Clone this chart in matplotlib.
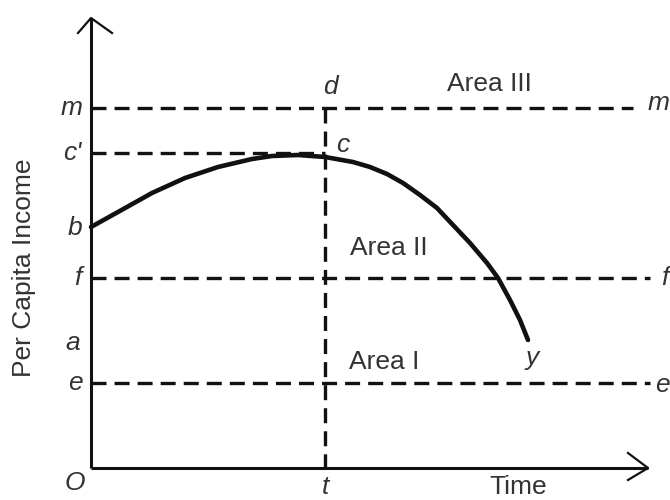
import matplotlib.pyplot as plt

plt.rcParams['font.family'] = ['Liberation Sans', 'DejaVu Sans']
plt.rcParams['lines.scale_dashes'] = False

# levels on the income axis (origin O at 0)
level_names = ['m', 'f', 'e']
level_values = [360, 190, 85]
level_ends = [542, 559, 559]
c_prime = 315
b_value = 240
a_value = 125
t_value = 234

# per capita income path b -> c -> y
curve_x = [0, 27, 61, 94, 127, 161, 181, 207, 234, 262, 279, 296, 312, 329, 346,
           362, 379, 396, 407, 419, 429, 437]
curve_y = [241, 256, 275, 290, 301, 309, 312, 313, 311, 306, 301, 294, 285, 273, 260,
           243, 225, 205, 190, 168, 148, 128]

ink = '#111111'
txt = '#333333'
dash = (10.8, 5.8)
fs = 19

fig = plt.figure(figsize=(6.7, 5), dpi=100)
ax = fig.add_axes([0, 0, 1, 1])
ax.set_xlim(-91, 579)
ax.set_ylim(-32, 468)
ax.axis('off')

# axes with open arrow heads
ax.plot([0, 0], [0, 450], color=ink, lw=2.2, solid_capstyle='butt')
ax.plot([0, 557], [0, 0], color=ink, lw=2.2, solid_capstyle='butt')
ax.plot([-13, 0, 21], [435, 450, 435], color=ink, lw=1.6)
ax.plot([537, 557, 537], [15, 0, -12], color=ink, lw=1.6)

# dashed guide lines
for val, end in zip(level_values, level_ends):
    ax.plot([0, end], [val, val], color=ink, lw=2.4, dashes=dash)
ax.plot([0, t_value], [c_prime, c_prime], color=ink, lw=2.4, dashes=dash)
ax.plot([t_value, t_value], [level_values[0], 0], color=ink, lw=2.4, dashes=dash)

# curve
ax.plot(curve_x, curve_y, color=ink, lw=3.3, solid_joinstyle='round', solid_capstyle='round')

it = dict(style='italic', fontsize=fs, color=txt, ha='center', va='center')
ax.text(-19, level_values[0], 'm', **it)
ax.text(-19, c_prime, "c'", **it)
ax.text(-16, b_value, 'b', **it)
ax.text(-13, level_values[1], 'f', **it)
ax.text(-18, a_value, 'a', **it)
ax.text(-16, level_values[2], 'e', **it)
ax.text(-16, -15, 'O', **it)
ax.text(t_value, -19, 't', **it)
ax.text(t_value + 5, 381, 'd', **it)
ax.text(t_value + 18, 323, 'c', **it)
ax.text(curve_x[-1] + 4, 110, 'y', **it)
ax.text(568, 365, 'm', **it)
ax.text(574, level_values[1], 'f', **it)
ax.text(571, level_values[2] - 2, 'e', **it)

ar = dict(fontsize=fs, color=txt, ha='left', va='center')
ax.text(356, 384, 'Area III', **ar)
ax.text(259, 220, 'Area II', **ar)
ax.text(258, 106, 'Area I', **ar)
ax.text(427, -19, 'Time', fontsize=fs, color=txt, ha='center', va='center')
ax.text(-67, 200, 'Per Capita Income', fontsize=fs, color=txt, rotation=90,
        ha='center', va='center')

fig.savefig('out.png', dpi=100)
